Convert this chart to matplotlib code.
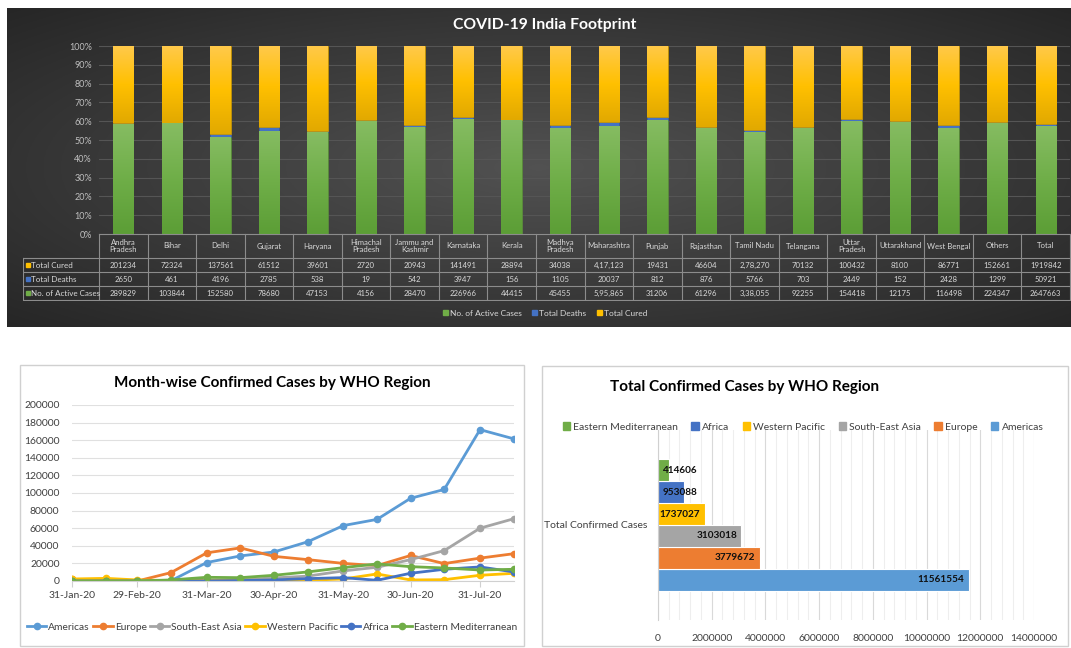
import numpy as np
import pandas as pd
import matplotlib
matplotlib.use("Agg")
import matplotlib.pyplot as plt
from matplotlib.patches import Rectangle, Patch
from matplotlib.colors import LinearSegmentedColormap
from matplotlib.ticker import PercentFormatter, MultipleLocator, FuncFormatter

W, H = 1071, 648
plt.rcParams["font.family"] = ["Lato", "DejaVu Sans"]

# ---------------------------------------------------------------------------
# Data: India footprint (table values as printed)
# ---------------------------------------------------------------------------
states = ["Andhra\nPradesh", "Bihar", "Delhi", "Gujarat", "Haryana",
          "Himachal\nPradesh", "Jammu and\nKashmir", "Karnataka", "Kerala",
          "Madhya\nPradesh", "Maharashtra", "Punjab", "Rajasthan", "Tamil Nadu",
          "Telangana", "Uttar\nPradesh", "Uttarakhand", "West Bengal", "Others",
          "Total"]
cured_txt = ["201234", "72324", "137561", "61512", "39601", "2720", "20943",
             "141491", "28894", "34038", "4,17,123", "19431", "46604",
             "2,78,270", "70132", "100432", "8100", "86771", "152661", "1919842"]
deaths_txt = ["2650", "461", "4196", "2785", "538", "19", "542", "3947", "156",
              "1105", "20037", "812", "876", "5766", "703", "2449", "152",
              "2428", "1299", "50921"]
active_txt = ["289829", "103844", "152580", "78680", "47153", "4156", "28470",
              "226966", "44415", "45455", "5,95,865", "31206", "61296",
              "3,38,055", "92255", "154418", "12175", "116498", "224347",
              "2647663"]

# ---------------------------------------------------------------------------
# Data: WHO regions, half-monthly confirmed cases
# ---------------------------------------------------------------------------
dates = pd.to_datetime(["2020-01-31", "2020-02-15", "2020-02-29", "2020-03-15",
                        "2020-03-31", "2020-04-15", "2020-04-30", "2020-05-15",
                        "2020-05-31", "2020-06-15", "2020-06-30", "2020-07-15",
                        "2020-07-31", "2020-08-15"])
americas = [500, 0, 0, 300, 21000, 28500, 33000, 44500, 63000, 70000, 94000,
            104000, 172000, 161600]
europe = [2000, 500, 0, 9500, 32000, 37600, 28000, 24300, 20000, 17500, 29000,
          19800, 26000, 31000]
south_east_asia = [0, 0, 0, 100, 1000, 1500, 3500, 5500, 11500, 15600, 24300,
                   34500, 60000, 70700]
western_pacific = [2300, 3000, 1200, 500, 800, 800, 800, 800, 2300, 8000, 1200,
                   1500, 6500, 8700]
africa = [0, 0, 0, 0, 200, 500, 1200, 2700, 3800, 800, 8800, 13300, 16000,
          10300]
eastern_med = [0, 0, 0, 1200, 4200, 3800, 6500, 10300, 15200, 19400, 16300,
               14800, 12500, 13300]

regions = ["Americas", "Europe", "South-East Asia", "Western Pacific", "Africa",
           "Eastern Mediterranean"]
region_totals = [11561554, 3779672, 3103018, 1737027, 953088, 414606]

REGION_COLORS = ["#5B9BD5", "#ED7D31", "#A5A5A5", "#FFC000", "#4472C4",
                 "#70AD47"]


def to_num(values):
    return np.array([int(v.replace(",", "")) for v in values], dtype=float)


fig = plt.figure(figsize=(W / 100, H / 100), dpi=100, facecolor="white")


def px_axes(x0, y0, x1, y1, **kw):
    return fig.add_axes([x0 / W, 1 - y1 / H, (x1 - x0) / W, (y1 - y0) / H], **kw)


def fx(x):
    return x / W


def fy(y):
    return 1 - y / H


def gradient_bars(ax, bars, colors):
    """Fill each bar with a vertical gradient (bottom -> top colours)."""
    cmap = LinearSegmentedColormap.from_list("grad", colors)
    ramp = np.linspace(0, 1, 64).reshape(-1, 1)
    for rect in bars:
        x0, y0 = rect.get_x(), rect.get_y()
        img = ax.imshow(ramp, extent=(x0, x0 + rect.get_width(), y0,
                                      y0 + rect.get_height()),
                        origin="lower", cmap=cmap, aspect="auto",
                        zorder=rect.get_zorder() + 0.1, interpolation="bilinear")
        img.set_clip_path(rect)


# ---------------------------------------------------------------------------
# Top panel: 100% stacked bars + data table on dark background
# ---------------------------------------------------------------------------
bg = px_axes(7, 8, 1071, 327, zorder=-2)
yy, xx = np.mgrid[-1:1:200j, -1:1:600j]
r = np.clip(np.sqrt(xx ** 2 + yy ** 2) / np.sqrt(2), 0, 1)
shade = 0.32 - 0.17 * r
bg.imshow(np.dstack([shade] * 3), aspect="auto", extent=(0, 1, 0, 1))
bg.axis("off")

fig.text(fx(545), fy(25), "COVID-19 India Footprint", color="white",
         weight="bold", size=11.3, ha="center", va="center")

active = to_num(active_txt)
deaths = to_num(deaths_txt)
cured = to_num(cured_txt)
total = active + deaths + cured
x = np.arange(len(states))

ax = px_axes(99, 46, 1070, 234)
ax.set_facecolor("none")
bw = 0.42
b1 = ax.bar(x, active / total, bw, color="#6DAA45", edgecolor="#5a8f38", lw=0.5)
b2 = ax.bar(x, deaths / total, bw, bottom=active / total, color="#4472C4",
            edgecolor="#3a62a8", lw=0.5)
b3 = ax.bar(x, cured / total, bw, bottom=(active + deaths) / total,
            color="#FFC20E", edgecolor="#c79500", lw=0.5)
gradient_bars(ax, b1, ["#5c9e36", "#6fae48", "#86bc62"])
gradient_bars(ax, b3, ["#e2a900", "#ffc000", "#ffc94a"])
ax.set_xlim(-0.5, len(states) - 0.5)
ax.set_ylim(0, 1)
ax.yaxis.set_major_locator(MultipleLocator(0.1))
ax.yaxis.set_major_formatter(PercentFormatter(1, decimals=0))
ax.tick_params(axis="y", length=0, colors="#bfbfbf", labelsize=6.5, pad=5)
ax.set_xticks([])
ax.grid(axis="y", color="#555555", lw=0.8)
ax.set_axisbelow(True)
for s in ax.spines.values():
    s.set_visible(False)

# data table
tb = px_axes(23, 233, 1071, 301)
tb.set_xlim(23, 1071)
tb.set_ylim(301, 233)
tb.axis("off")
col_x = 99 + np.arange(len(states) + 1) * (971 / len(states))
rows_y = [234, 258, 272, 286, 300]
line_kw = dict(color="#8c8c8c", lw=0.8)
tb.plot([col_x[0], col_x[-1]], [rows_y[0]] * 2, **line_kw)
for yv in rows_y[1:]:
    tb.plot([23, col_x[-1]], [yv] * 2, **line_kw)
for xv in col_x:
    tb.plot([xv, xv], [rows_y[0], rows_y[-1]], **line_kw)
tb.plot([23, 23], [rows_y[1], rows_y[-1]], **line_kw)

txt_kw = dict(color="#d9d9d9", size=5.6, ha="center", va="center")
for i, name in enumerate(states):
    cx = (col_x[i] + col_x[i + 1]) / 2
    tb.text(cx, 246, name, linespacing=1.1, **txt_kw)
    for row, vals in zip(range(3), (cured_txt, deaths_txt, active_txt)):
        tb.text(cx, (rows_y[row + 1] + rows_y[row + 2]) / 2, vals[i], **txt_kw)

row_names = ["Total Cured", "Total Deaths", "No. of Active Cases"]
row_colors = ["#FFC000", "#4472C4", "#70AD47"]
for row, (name, c) in enumerate(zip(row_names, row_colors)):
    ym = (rows_y[row + 1] + rows_y[row + 2]) / 2
    tb.plot(27.5, ym, "s", color=c, ms=3.2)
    tb.text(31, ym, name, color="#d9d9d9", size=5.8, ha="left", va="center")

ax.legend([Patch(color="#70AD47"), Patch(color="#4472C4"),
           Patch(color="#FFC000")],
          ["No. of Active Cases", "Total Deaths", "Total Cured"],
          loc="center", bbox_to_anchor=(fx(545), fy(313)),
          bbox_transform=fig.transFigure, ncol=3, frameon=False,
          labelcolor="#d9d9d9", fontsize=6, handlelength=0.6, handleheight=0.6,
          handletextpad=0.3, columnspacing=1.2)

# ---------------------------------------------------------------------------
# Bottom-left: month-wise confirmed cases (lines)
# ---------------------------------------------------------------------------
fig.patches.append(Rectangle((fx(20), fy(646)), (524 - 20) / W, (646 - 365) / H,
                             transform=fig.transFigure, fc="white",
                             ec="#d0d0d0", lw=1, zorder=-1))
fig.text(fx(272), fy(383), "Month-wise Confirmed Cases by WHO Region",
         color="black", weight="bold", size=11, ha="center", va="center")

lx = px_axes(72, 405, 514, 581)
series = [americas, europe, south_east_asia, western_pacific, africa,
          eastern_med]
for name, vals, c in zip(regions, series, REGION_COLORS):
    lx.plot(dates, vals, color=c, lw=2.0, marker="o", ms=4.5, label=name)
lx.set_ylim(0, 200000)
lx.yaxis.set_major_locator(MultipleLocator(20000))
lx.set_xlim(dates[0] - pd.Timedelta(hours=4), dates[-1] + pd.Timedelta(hours=4))
lx.set_xticks(dates[::2])
lx.set_xticklabels([d.strftime("%d-%b-%y") for d in dates[::2]])
lx.grid(axis="y", color="#e0e0e0", lw=0.8)
lx.set_axisbelow(True)
for s in ("top", "right", "left"):
    lx.spines[s].set_visible(False)
lx.spines["bottom"].set_color("#d0d0d0")
lx.tick_params(axis="y", length=0, labelsize=7.5, colors="#404040", pad=9)
lx.tick_params(axis="x", length=4, color="#d0d0d0", labelsize=7.5,
               labelcolor="#404040", pad=3)
lx.legend(loc="center", bbox_to_anchor=(fx(272), fy(627)),
          bbox_transform=fig.transFigure, ncol=6, frameon=False, fontsize=7.4,
          handlelength=1.9, handletextpad=0.2, columnspacing=0.3,
          labelcolor="#404040")

# ---------------------------------------------------------------------------
# Bottom-right: total confirmed cases (horizontal bars)
# ---------------------------------------------------------------------------
fig.patches.append(Rectangle((fx(542), fy(646)), (1068 - 542) / W,
                             (646 - 366) / H, transform=fig.transFigure,
                             fc="white", ec="#d0d0d0", lw=1, zorder=-1))
fig.text(fx(745), fy(387), "Total Confirmed Cases by WHO Region",
         color="black", weight="bold", size=11, ha="center", va="center")

hx = px_axes(658, 430, 1034, 620)
pos = np.arange(len(regions))
bars = hx.barh(pos, region_totals, height=1.0, color=REGION_COLORS,
               edgecolor="white", lw=0.8)
hx.set_xlim(0, 14000000)
hx.set_ylim(pos.mean() - 4.32, pos.mean() + 4.32)
hx.xaxis.set_major_locator(MultipleLocator(2000000))
hx.xaxis.set_minor_locator(MultipleLocator(400000))
hx.xaxis.set_major_formatter(FuncFormatter(lambda v, _: f"{v:.0f}"))
hx.grid(axis="x", which="major", color="#d9d9d9", lw=0.8)
hx.grid(axis="x", which="minor", color="#eeeeee", lw=0.8)
hx.set_axisbelow(True)
for s in ("top", "right", "bottom"):
    hx.spines[s].set_visible(False)
hx.spines["left"].set_color("#d0d0d0")
hx.set_yticks([pos.mean()])
hx.set_yticklabels(["Total Confirmed Cases"])
hx.tick_params(axis="y", length=0, labelsize=7.5, colors="#404040", pad=8)
hx.tick_params(axis="x", which="both", length=0, labelsize=7.5,
               colors="#404040", pad=10)
pad = 160000
for p, v in zip(pos, region_totals):
    if v > 1500000:
        hx.text(v - pad, p, f"{v}", ha="right", va="center", size=7.2,
                weight="bold", color="#101010")
    else:
        hx.text(pad, p, f"{v}", ha="left", va="center", size=7.2,
                weight="bold", color="#101010")
handles = [Patch(color=c) for c in REGION_COLORS][::-1]
hx.legend(handles, regions[::-1], loc="center",
          bbox_to_anchor=(fx(803), fy(427)), bbox_transform=fig.transFigure,
          ncol=6, frameon=False, fontsize=7.5, handlelength=0.7,
          handleheight=0.7, handletextpad=0.3, columnspacing=1.3,
          labelcolor="#404040")

fig.savefig("out.png", dpi=100, facecolor="white")
